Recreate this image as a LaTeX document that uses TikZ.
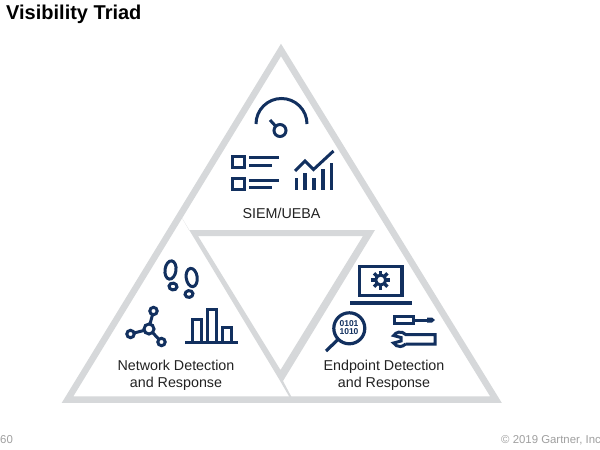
\documentclass[tikz,border=0pt]{standalone}
\usepackage{fontspec}
\setmainfont{Liberation Sans}
\definecolor{triadgray}{HTML}{D6D8DA}
\definecolor{iconblue}{HTML}{12305F}
\definecolor{footgray}{HTML}{A0A0A0}
\definecolor{labeltext}{HTML}{222222}
\begin{document}
\begin{tikzpicture}[x=1pt,y=-1pt,
  icon/.style={draw=iconblue,line width=3pt,fill=none},
  label/.style={text=labeltext,font=\fontsize{14.3}{17}\selectfont,align=center,inner sep=0pt},
  foot/.style={text=footgray,font=\fontsize{11.4}{14}\selectfont,inner sep=0pt,anchor=base west},
  digits/.style={text=iconblue,font=\bfseries\fontsize{8.5}{8.5}\selectfont,inner sep=0pt}]
\useasboundingbox (0,0) rectangle (600,450);
\fill[white] (0,0) rectangle (600,450);

\draw[triadgray,line width=6.5pt,miter limit=10] (281,50) -- (496,399.7) -- (67.5,399.7) -- cycle;
\fill[triadgray,even odd rule] (182,218) -- (189,230) -- (375,230) -- (283,381) -- (292,398) -- (290,398) -- (279,379) -- cycle
  (198,236) -- (363,236) -- (280.5,370) -- cycle;

\node[anchor=base west,inner sep=0pt,font=\bfseries\fontsize{20}{22}\selectfont] (title) at (6,19.5) {Visibility Triad};
\node[foot] (pagenum) at (0,443) {60};
\node[foot] (copyright) at (501,443) {© 2019 Gartner, Inc};

\node[label,anchor=base] (siem) at (281.5,218.5) {SIEM/UEBA};
\node[label] (network) at (176,375) {Network Detection\\and Response};
\node[label] (endpoint) at (384,375) {Endpoint Detection\\and Response};

\draw[icon] (256,124) arc[start angle=180,end angle=360,radius=25.5];
\draw[icon] (280,130.5) circle (6);
\draw[icon] (270,120) -- (275.5,126);

\draw[icon] (232.5,156.5) rectangle (244,167.5);
\draw[icon] (232.5,178) rectangle (244,189.5);
\draw[icon] (249,157.5) -- (279,157.5);
\draw[icon] (249,165) -- (272,165);
\draw[icon] (249,180) -- (279,180);
\draw[icon] (249,187.5) -- (272,187.5);

\draw[icon] (295,171) -- (305,161) -- (313.5,169.5) -- (333.5,151);
\foreach \barx/\bartop in {296.7/178,305/173,314/178,323/169,331.7/163}
  \draw[icon,line width=3.4pt] (\barx,\bartop) -- (\barx,190);

\draw[icon,rotate around={-8:(170.5,270)}] (170.5,270) ellipse (5.5 and 9.2);
\draw[icon,rotate around={-8:(173,286.5)}] (173,286.5) ellipse (4 and 3.4);
\draw[icon,rotate around={8:(191.7,277.5)}] (191.7,277.5) ellipse (5.5 and 9.2);
\draw[icon,rotate around={8:(189,294)}] (189,294) ellipse (4 and 3.4);

\draw[icon] (149,329) circle (5);
\draw[icon] (153.5,311) circle (3.7);
\draw[icon] (130.5,334) circle (3.7);
\draw[icon] (161.5,342) circle (3.7);
\draw[icon] (150,324) -- (152.5,314.7);
\draw[icon] (144.2,330.4) -- (134,333);
\draw[icon] (152.5,332.5) -- (159,339.3);

\draw[icon] (185,342) -- (237.5,342);
\draw[icon] (192,342) -- (192,319.5) -- (201.5,319.5) -- (201.5,342);
\draw[icon] (207,342) -- (207,309) -- (216.5,309) -- (216.5,342);
\draw[icon] (222,342) -- (222,327) -- (231.5,327) -- (231.5,342);

\draw[icon,line width=3.2pt] (359.5,266.5) rectangle (402,295.5);
\fill[iconblue] (350,300.7) rectangle (412,305);
\draw[icon] (380.7,280) circle (5);
\foreach \gearangle in {0,45,...,315}
  \draw[icon,line width=3.4pt] (380.7,280) ++(\gearangle:5.5) -- ++(\gearangle:4);

\draw[icon,line width=3.2pt] (349.3,328.3) circle (15.5);
\draw[icon,line width=3.2pt] (338,339.5) -- (326,351);
\node[digits] (binarytop) at (349,324) {0101};
\node[digits] (binarybottom) at (349,332) {1010};

\draw[icon] (394,316.5) rectangle (413,323.5);
\draw[icon] (413,320) -- (428,320);
\fill[iconblue] (427,317.5) -- (432,317.5) -- (435,320) -- (432,322.5) -- (427,322.5) -- cycle;

\draw[icon] (405.6,344) -- (435,344) -- (435,334.5) -- (405.6,334.5)
  arc[start angle=318,end angle=212,radius=7.5] -- (401,337.5) -- (401,341) -- (393.6,343)
  arc[start angle=148,end angle=42,radius=7.5];
\end{tikzpicture}
\end{document}
